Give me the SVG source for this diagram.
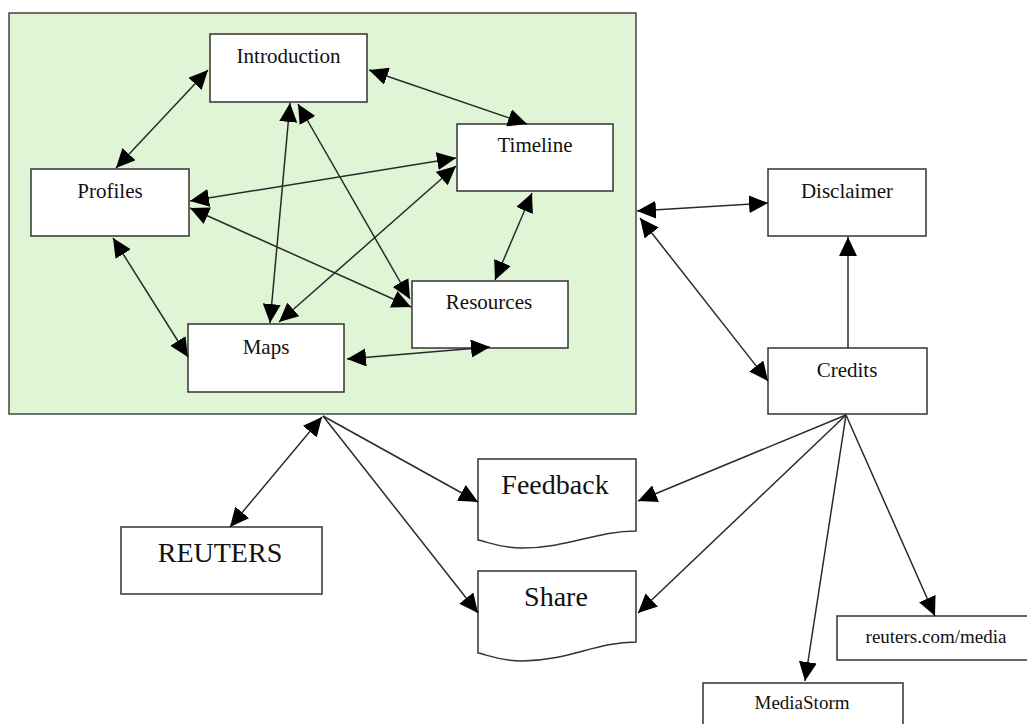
<svg xmlns="http://www.w3.org/2000/svg" width="1027" height="724" viewBox="0 0 1027 724">
<defs>
<style>
.box{fill:#fff;stroke:#333;stroke-width:1.5}
.t{font-family:"Liberation Serif","Times New Roman",serif;fill:#111;text-anchor:middle}
.n{font-size:21px}
.b{font-size:28px}
.s{font-size:19px}
.c line{stroke:#2a2a2a;stroke-width:1.5;fill:none}
.d{marker-start:url(#ah);marker-end:url(#ah)}
.o{marker-end:url(#ah)}
</style>
<marker id="ah" markerUnits="userSpaceOnUse" viewBox="0 0 19 18" markerWidth="19" markerHeight="18" refX="19" refY="9" orient="auto-start-reverse">
<path d="M0,0 L19,9 L0,18 Z" fill="#000"/>
</marker>
</defs>
<rect width="1027" height="724" fill="#fff"/>
<g id="container">
<rect x="9" y="13" width="627" height="401" fill="#dff5d6" stroke="#444" stroke-width="1.5"/>
</g>
<g id="introduction"><rect class="box" x="210" y="34" width="157" height="68"/><text class="t n" x="288.5" y="63">Introduction</text></g>
<g id="timeline"><rect class="box" x="457" y="124" width="156" height="67"/><text class="t n" x="535" y="152">Timeline</text></g>
<g id="profiles"><rect class="box" x="31" y="169" width="158" height="67"/><text class="t n" x="110" y="198">Profiles</text></g>
<g id="resources"><rect class="box" x="412" y="281" width="156" height="67"/><text class="t n" x="489" y="309">Resources</text></g>
<g id="maps"><rect class="box" x="188" y="324" width="156" height="68"/><text class="t n" x="266" y="354">Maps</text></g>
<g id="disclaimer"><rect class="box" x="768" y="169" width="158" height="67"/><text class="t n" x="847" y="198">Disclaimer</text></g>
<g id="credits"><rect class="box" x="768" y="348" width="159" height="66"/><text class="t n" x="847" y="377">Credits</text></g>
<g id="reuters"><rect class="box" x="121" y="527" width="201" height="67"/><text class="t b" x="220" y="562">REUTERS</text></g>
<g id="feedback"><path class="box" d="M478,459 L636,459 L636,531 C596,531 568,548 522,548 C500,548 488,542 478,540 Z"/><text class="t b" x="555" y="494">Feedback</text></g>
<g id="share"><path class="box" d="M478,571 L636,571 L636,642 C596,642 568,661 522,661 C500,661 488,655 478,653 Z"/><text class="t b" x="556" y="606">Share</text></g>
<g id="reuters-media"><rect class="box" x="837" y="616" width="200" height="44"/><text class="t s" x="936" y="643">reuters.com/media</text></g>
<g id="mediastorm"><rect class="box" x="703" y="683" width="200" height="50"/><text class="t s" x="802" y="709">MediaStorm</text></g>
<g id="connectors" class="c">
<line class="d" x1="208" y1="70" x2="116" y2="168"/>
<line class="d" x1="369" y1="70" x2="527" y2="124"/>
<line class="d" x1="190" y1="201" x2="456" y2="158"/>
<line class="d" x1="190" y1="208" x2="411" y2="307"/>
<line class="d" x1="113" y1="238" x2="188" y2="357"/>
<line class="d" x1="290" y1="103" x2="270" y2="323"/>
<line class="d" x1="298" y1="104" x2="410" y2="299"/>
<line class="d" x1="456" y1="166" x2="279" y2="322"/>
<line class="d" x1="532" y1="193" x2="495" y2="280"/>
<line class="d" x1="347" y1="359" x2="490" y2="347"/>
<line class="d" x1="637" y1="211" x2="768" y2="203"/>
<line class="d" x1="640" y1="218" x2="768" y2="381"/>
<line class="o" x1="848" y1="348" x2="848" y2="237"/>
<line class="d" x1="322" y1="417" x2="230" y2="527"/>
<line class="o" x1="323" y1="416" x2="478" y2="502"/>
<line class="o" x1="323" y1="416" x2="478" y2="613"/>
<line class="o" x1="846" y1="415" x2="638" y2="501"/>
<line class="o" x1="846" y1="415" x2="638" y2="613"/>
<line class="o" x1="846" y1="415" x2="805" y2="681"/>
<line class="o" x1="846" y1="415" x2="935" y2="616"/>
</g>
</svg>
